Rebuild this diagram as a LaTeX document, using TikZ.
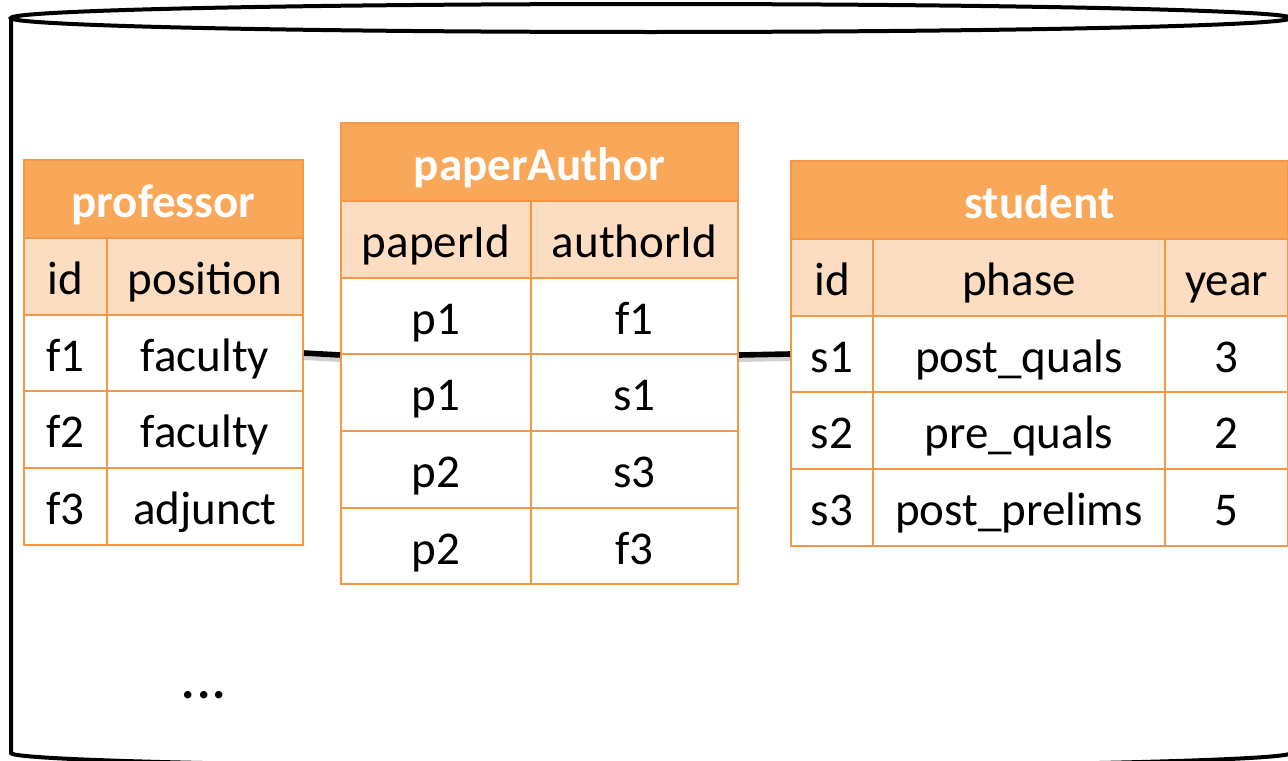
\documentclass[tikz,border=0pt]{standalone}
\usepackage{fontspec}
\setmainfont{Carlito}
\definecolor{hdrfill}{RGB}{249,167,88}
\definecolor{lightfill}{RGB}{252,221,193}
\definecolor{rulecol}{RGB}{247,150,70}
\tikzset{
  cell/.style={draw=rulecol, line width=1pt, fill=white, anchor=north west,
    inner sep=0pt, text=black, text height=18pt, text depth=0pt,
    font=\fontsize{23.5}{28}\selectfont},
  colhead/.style={cell, fill=lightfill},
  title/.style={cell, fill=hdrfill, text=white,
    font=\fontsize{23.5}{28}\selectfont\bfseries},
  sz/.style 2 args={minimum width=#1*0.5pt, minimum height=#2*0.5pt},
  link/.style={line width=2.8pt, black},
  linkshadow/.style={line width=3pt, black, opacity=0.18},
  drum/.style={line width=2pt, black},
}
\begin{document}
\begin{tikzpicture}[x=0.5pt, y=-0.5pt]
\useasboundingbox (0,0) rectangle (1288,760);
\fill[white] (0,0) rectangle (1288,760);

% database drum
\draw[drum] (651,18) ellipse [x radius=640, y radius=14];
\draw[drum] (11,18) -- (11,753) arc[start angle=180, end angle=0, x radius=640, y radius=14] -- (1291,18);

% professor table
\node[title, sz={279}{78}] (prof) at (23,159) {professor};
\node[colhead, sz={83}{77}] (prof-h1) at (23,237) {id};
\node[colhead, sz={196}{77}] (prof-h2) at (106,237) {position};
\node[cell, sz={83}{76}] (prof-r1a) at (23,314) {f1};
\node[cell, sz={196}{76}] (prof-r1b) at (106,314) {faculty};
\node[cell, sz={83}{77}] (prof-r2a) at (23,390) {f2};
\node[cell, sz={196}{77}] (prof-r2b) at (106,390) {faculty};
\node[cell, sz={83}{77}] (prof-r3a) at (23,467) {f3};
\node[cell, sz={196}{77}] (prof-r3b) at (106,467) {adjunct};

% paperAuthor table
\node[title, sz={397}{78}] (pa) at (340,122) {paperAuthor};
\node[colhead, sz={190}{77}] (pa-h1) at (340,200) {paperId};
\node[colhead, sz={207}{77}] (pa-h2) at (530,200) {authorId};
\node[cell, sz={190}{76}] (pa-r1a) at (340,277) {p1};
\node[cell, sz={207}{76}] (pa-r1b) at (530,277) {f1};
\node[cell, sz={190}{77}] (pa-r2a) at (340,353) {p1};
\node[cell, sz={207}{77}] (pa-r2b) at (530,353) {s1};
\node[cell, sz={190}{77}] (pa-r3a) at (340,430) {p2};
\node[cell, sz={207}{77}] (pa-r3b) at (530,430) {s3};
\node[cell, sz={190}{76}] (pa-r4a) at (340,507) {p2};
\node[cell, sz={207}{76}] (pa-r4b) at (530,507) {f3};

% student table
\node[title, sz={497}{78}] (stu) at (790,160) {student};
\node[colhead, sz={82}{77}] (stu-h1) at (790,238) {id};
\node[colhead, sz={292}{77}] (stu-h2) at (872,238) {phase};
\node[colhead, sz={123}{77}] (stu-h3) at (1164,238) {year};
\node[cell, sz={82}{76}] (stu-r1a) at (790,315) {s1};
\node[cell, sz={292}{76}] (stu-r1b) at (872,315) {post\_quals};
\node[cell, sz={123}{76}] (stu-r1c) at (1164,315) {3};
\node[cell, sz={82}{77}] (stu-r2a) at (790,391) {s2};
\node[cell, sz={292}{77}] (stu-r2b) at (872,391) {pre\_quals};
\node[cell, sz={123}{77}] (stu-r2c) at (1164,391) {2};
\node[cell, sz={82}{77}] (stu-r3a) at (790,468) {s3};
\node[cell, sz={292}{77}] (stu-r3b) at (872,468) {post\_prelims};
\node[cell, sz={123}{77}] (stu-r3c) at (1164,468) {5};

% joins between the tables
\draw[linkshadow, transform canvas={yshift=-2pt}] (prof-r1b.east) -- (pa-r1a.south west);
\draw[linkshadow, transform canvas={yshift=-2pt}] (pa-r1b.south east) -- (stu-r1a.west);
\draw[link] (prof-r1b.east) -- (pa-r1a.south west);
\draw[link] (pa-r1b.south east) -- (stu-r1a.west);

% more tables
\node[font=\fontsize{25}{28}\selectfont\bfseries] (more) at (204,695) {.\kern1pt.\kern1pt.};
\end{tikzpicture}
\end{document}
